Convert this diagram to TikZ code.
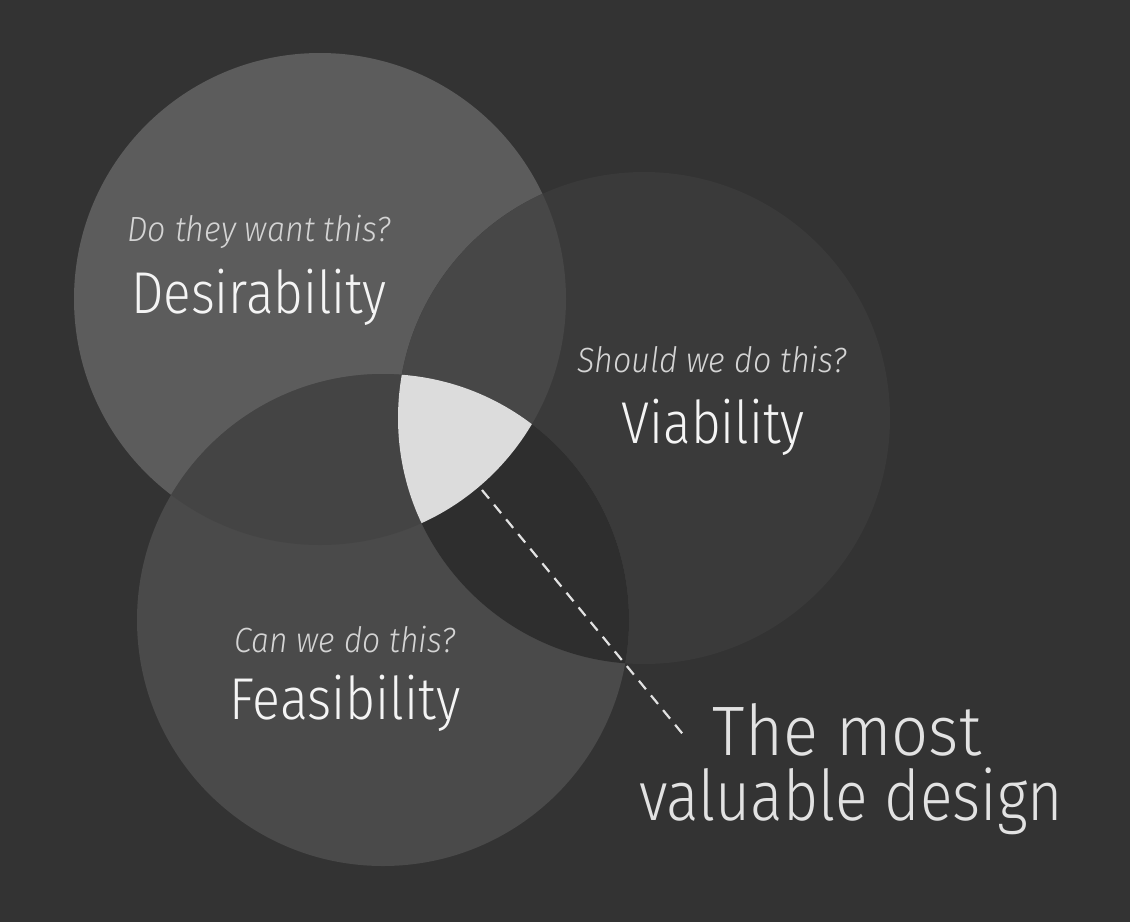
\documentclass[tikz,border=0pt]{standalone}
\usepackage{fontspec}
\setmainfont{Fira Sans}[UprightFont={* Light},ItalicFont={* Light Italic}]
\definecolor{bgcol}{HTML}{333333}
\definecolor{dcol}{HTML}{5C5C5C}
\definecolor{vcol}{HTML}{3A3A3A}
\definecolor{fcol}{HTML}{4A4A4A}
\definecolor{dvcol}{HTML}{474747}
\definecolor{dfcol}{HTML}{444444}
\definecolor{fvcol}{HTML}{2E2E2E}
\definecolor{allcol}{HTML}{DCDCDC}
\definecolor{qcol}{HTML}{D4D4D4}
\definecolor{tcol}{HTML}{F4F4F4}
\definecolor{lcol}{HTML}{E2E2E2}
\newcommand{\squeeze}[2]{\scalebox{#1}[1]{#2}}
\begin{document}
\begin{tikzpicture}[x=1pt,y=-1pt,
  question/.style={font=\fontsize{35}{40}\selectfont\itshape, text=qcol, anchor=base, inner sep=0pt},
  title/.style={font=\fontsize{59}{66}\selectfont, text=tcol, anchor=base, inner sep=0pt},
  biglabel/.style={font=\fontsize{70}{78}\selectfont, text=lcol, anchor=base, inner sep=0pt},
  leader/.style={draw=lcol, line width=2.2pt, dash pattern=on 11pt off 8pt}]
\fill[bgcol] (0,0) rectangle (1130,922);
\useasboundingbox (0,0) rectangle (1130,922);
\coordinate (cD) at (320,299);
\coordinate (cV) at (644,418);
\coordinate (cF) at (383,620);
\def\R{246pt}
% circles
\fill[dcol] (cD) circle[radius=\R];
\fill[vcol] (cV) circle[radius=\R];
\fill[fcol] (cF) circle[radius=\R];
% pairwise overlaps
\begin{scope}
  \clip (cD) circle[radius=\R];
  \fill[dvcol] (cV) circle[radius=\R];
\end{scope}
\begin{scope}
  \clip (cD) circle[radius=\R];
  \fill[dfcol] (cF) circle[radius=\R];
\end{scope}
\begin{scope}
  \clip (cF) circle[radius=\R];
  \fill[fvcol] (cV) circle[radius=\R];
\end{scope}
% triple overlap
\begin{scope}
  \clip (cD) circle[radius=\R];
  \clip (cV) circle[radius=\R];
  \fill[allcol] (cF) circle[radius=\R];
\end{scope}
% texts
\node[question] (qD) at (259,241) {\squeeze{0.92}{Do they want this?}};
\node[title] (tD) at (259,313) {\squeeze{0.87}{Desirability}};
\node[question] (qV) at (712,372) {\squeeze{0.92}{Should we do this?}};
\node[title] (tV) at (713,443) {\squeeze{0.87}{Viability}};
\node[question] (qF) at (345,652) {\squeeze{0.91}{Can we do this?}};
\node[title] (tF) at (345,719) {\squeeze{0.88}{Feasibility}};
\node[biglabel] (l1) at (847,755) {\squeeze{0.93}{The most}};
\node[biglabel] (l2) at (851,820) {\squeeze{0.865}{valuable design}};
% leader line
\coordinate (tip) at (482,490);
\coordinate (tail) at (686,738);
\draw[leader] (tip) -- (tail);
\end{tikzpicture}
\end{document}
